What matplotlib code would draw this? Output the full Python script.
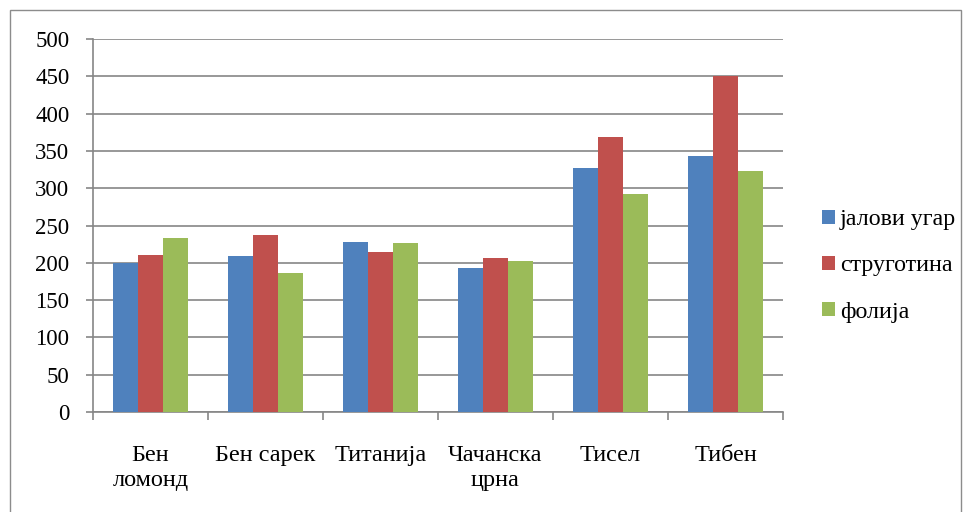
import numpy as np
import matplotlib.pyplot as plt
from matplotlib.patches import Rectangle

plt.rcParams['font.family'] = ['Liberation Serif', 'DejaVu Serif']

cultivars = ["Бен\nломонд", "Бен сарек", "Титанија", "Чачанска\nцрна", "Тисел", "Тибен"]
series_names = ["јалови угар", "струготина", "фолија"]
fallow = [200, 209, 228, 193, 327, 343]
sawdust = [211, 237, 215, 207, 368, 451]
foil = [233, 186, 227, 203, 292, 323]
colors = ["#4f81bd", "#c0504d", "#9bbb59"]


def main():
    fig = plt.figure(figsize=(9.71, 5.12), dpi=100)
    ax = fig.add_axes([93 / 971, 1 - 412 / 512, 690 / 971, 373 / 512])

    # outer chart frame
    fig.patches.append(Rectangle((10 / 971, -0.01), 951 / 971, 1 - 10 / 512 + 0.01,
                                 transform=fig.transFigure, fill=False,
                                 edgecolor="#8c8c8c", linewidth=1))

    x = np.arange(len(cultivars))
    w = 0.217
    for i, vals in enumerate([fallow, sawdust, foil]):
        ax.bar(x + (i - 1) * w, vals, w, color=colors[i], label=series_names[i],
               zorder=3)

    ax.set_xlim(-0.5, len(cultivars) - 0.5)
    ax.set_ylim(0, 500)
    ax.set_yticks(np.arange(0, 501, 50))
    ax.yaxis.grid(True, color="#868686", linewidth=1.2, zorder=0)

    # category ticks sit between groups
    ax.set_xticks(np.arange(-0.5, len(cultivars)), minor=False)
    ax.set_xticklabels([])
    ax.set_xticks(x, minor=True)
    ax.set_xticklabels(cultivars, minor=True, fontsize=17.5, linespacing=1.25)
    ax.tick_params(axis="x", which="minor", length=0, pad=24)
    ax.tick_params(axis="x", which="major", length=6, color="#868686", width=1.2)
    ax.tick_params(axis="y", length=5, color="#868686", width=1.2, labelsize=16.5, pad=12)

    for s in ["top", "right"]:
        ax.spines[s].set_visible(False)
    for s in ["left", "bottom"]:
        ax.spines[s].set_color("#868686")
        ax.spines[s].set_linewidth(1.2)

    fig.legend(loc="center left", bbox_to_anchor=(822 / 971, 1 - 266 / 512),
               frameon=False, fontsize=17.3, handlelength=0.55, handleheight=0.55,
               handletextpad=0.2, labelspacing=1.05, borderaxespad=0, borderpad=0)

    fig.savefig("out.png", dpi=100)


if __name__ == "__main__":
    main()
